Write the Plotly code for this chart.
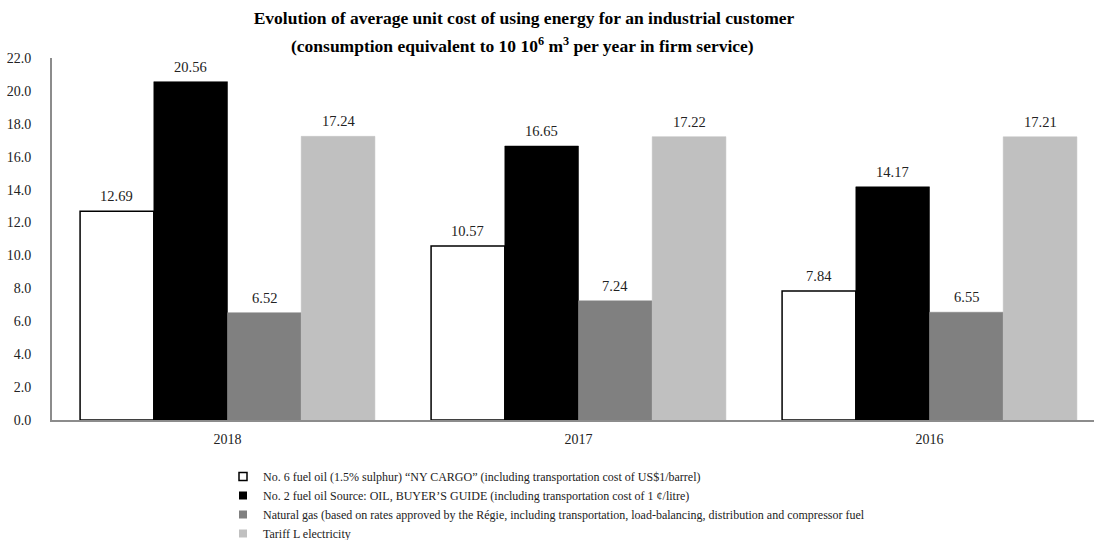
import plotly.graph_objects as go

years = ["2018", "2017", "2016"]
series_names = [
    "No. 6 fuel oil (1.5% sulphur) \u201cNY CARGO\u201d (including transportation cost of US$1/barrel)",
    "No. 2 fuel oil Source: OIL, BUYER\u2019S GUIDE (including transportation cost of 1 \u00a2/litre)",
    "Natural gas (based on rates approved by the R\u00e9gie, including transportation, load-balancing, distribution and compressor fuel",
    "Tariff L electricity",
]
fuel6 = [12.69, 10.57, 7.84]
fuel2 = [20.56, 16.65, 14.17]
natgas = [6.52, 7.24, 6.55]
elec = [17.24, 17.22, 17.21]
y_ticks = [0, 2, 4, 6, 8, 10, 12, 14, 16, 18, 20, 22]

values = [fuel6, fuel2, natgas, elec]
fills = ["#ffffff", "#000000", "#808080", "#c0c0c0"]
lines = ["#000000", "#000000", "#808080", "#c0c0c0"]
line_w = [1.5, 0.5, 0.5, 0.5]
leg_line_w = [1.5, 0, 0, 0]

SERIF = "Liberation Serif"
bargap = 0.16
n = len(values)
barw = (1 - bargap) / n

W, H = 1094, 540
ML, MR, MT, MB = 52, 0, 58, 120
plot_w = W - ML - MR
plot_h = H - MT - MB

fig = go.Figure()
for j, (name, vals) in enumerate(zip(series_names, values)):
    fig.add_trace(go.Bar(
        x=years, y=vals, name=name, showlegend=False, legendgroup=str(j),
        marker=dict(color=fills[j], line=dict(color=lines[j], width=line_w[j])),
    ))
for j, name in enumerate(series_names):
    fig.add_trace(go.Scatter(
        x=[None], y=[None], mode="markers", name=name, legendgroup=str(j),
        marker=dict(symbol="square", size=8, color=fills[j],
                    line=dict(color="#000000", width=leg_line_w[j])),
    ))

annotations = []
for j, vals in enumerate(values):
    for i, v in enumerate(vals):
        annotations.append(dict(
            x=i + (j - (n - 1) / 2) * barw, y=v, xref="x", yref="y",
            text=f"{v:.2f}", showarrow=False, yanchor="bottom", yshift=5,
            font=dict(family=SERIF, size=14.5, color="#222222"),
        ))

annotations.append(dict(
    x=(522 - ML) / plot_w, y=(H - MB - 45) / plot_h, xref="paper", yref="paper",
    text="(consumption equivalent to 10 10<sup>6</sup> m<sup>3</sup> per year in firm service)",
    showarrow=False, xanchor="center", yanchor="middle",
    font=dict(family=SERIF, size=17.5, color="#000000", weight="bold"),
))

fig.update_layout(
    width=W, height=H,
    margin=dict(l=ML, r=MR, t=MT, b=MB, autoexpand=False),
    paper_bgcolor="white", plot_bgcolor="white",
    barmode="group", bargap=bargap, bargroupgap=0,
    title=dict(
        text="Evolution of average unit cost of using energy for an industrial customer",
        x=524 / W, xref="container", xanchor="center",
        y=1 - 18 / H, yref="container", yanchor="middle",
        font=dict(family=SERIF, size=17.5, color="#000000", weight="bold"),
    ),
    xaxis=dict(
        type="category", range=[-0.5, plot_w / 351 - 0.5],
        showline=True, linecolor="#8c8c8c", linewidth=2,
        ticks="", showgrid=False, zeroline=False, ticklabelstandoff=5,
        tickfont=dict(family=SERIF, size=14, color="#222222"),
    ),
    yaxis=dict(
        range=[0, 22], tickvals=y_ticks, tickformat=".1f",
        showline=True, linecolor="#8c8c8c", linewidth=2,
        ticks="", showgrid=False, zeroline=False, ticklabelstandoff=16,
        tickfont=dict(family=SERIF, size=14, color="#222222"),
    ),
    legend=dict(
        orientation="v", xref="container", yref="container",
        x=223 / W, xanchor="left", y=1 - 462 / H, yanchor="top",
        font=dict(family=SERIF, size=12, color="#222222"),
        bgcolor="rgba(0,0,0,0)", tracegroupgap=0, itemwidth=30,
    ),
    annotations=annotations,
    showlegend=True,
)

fig.write_html("out.html")
